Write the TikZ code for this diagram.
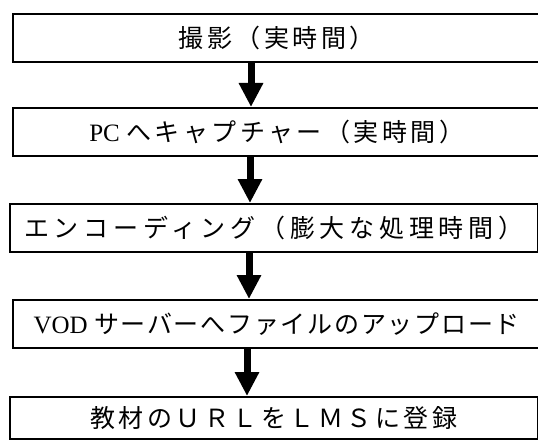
\documentclass[tikz,border=0pt]{standalone}
\usepackage{fontspec}
\setmainfont{Liberation Serif}
\newfontfamily\jp[LetterSpace=14]{Noto Sans CJK JP}
\newfontfamily\jpwide[LetterSpace=19]{Noto Sans CJK JP}
\newfontfamily\jpnarrow[LetterSpace=7]{Noto Sans CJK JP}
\newfontfamily\latnfont{Liberation Serif}
\usetikzlibrary{arrows.meta}
\begin{document}
\begin{tikzpicture}[x=1pt,y=-1pt,
  stepbox/.style={draw, line width=1.6pt, minimum width=528pt, minimum height=48pt,
    inner sep=0pt, anchor=north west, font=\fontsize{25pt}{28pt}\selectfont\jp},
  flow/.style={line width=7pt, -{Triangle[width=23pt,length=24pt]}}]
\useasboundingbox (0,0) rectangle (538,441);
\clip (0,0) rectangle (538,441);
\node[stepbox] (b1) at (12,13) {撮影（実時間）};
\node[stepbox] (b2) at (12,107) {{\latnfont\fontsize{25pt}{28pt}\selectfont PC }へキャプチャー（実時間）};
\node[stepbox] (b3) at (9,203) {\jpwide エンコーディング（膨大な処理時間）};
\node[stepbox] (b4) at (12,299) {{\latnfont\fontsize{25pt}{28pt}\selectfont VOD }\jpnarrow サーバーへファイルのアップロード};
\node[stepbox, minimum height=42pt] (b5) at (9,396) {教材のＵＲＬをＬＭＳに登録};
\draw[flow] ([xshift=239pt]b1.south west) -- ([xshift=239pt]b2.north west);
\draw[flow] ([xshift=238pt]b2.south west) -- ([xshift=241pt]b3.north west);
\draw[flow] ([xshift=240pt]b3.south west) -- ([xshift=237pt]b4.north west);
\draw[flow] ([xshift=235pt]b4.south west) -- ([xshift=238pt]b5.north west);
\end{tikzpicture}
\end{document}
